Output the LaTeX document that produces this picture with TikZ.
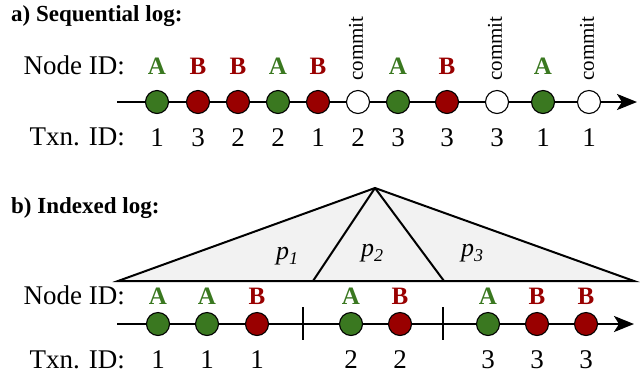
\documentclass[tikz,border=0pt]{standalone}
\usepackage{fontspec}
\setmainfont{Liberation Serif}
\usetikzlibrary{arrows.meta}
\definecolor{gA}{RGB}{58,120,32}
\definecolor{rB}{RGB}{153,0,0}
\definecolor{triFill}{RGB}{242,242,242}
\tikzset{
  evt/.style={circle,draw=black,line width=1.1pt,minimum size=23pt,inner sep=0pt},
  evA/.style={evt,fill=gA},
  evB/.style={evt,fill=rB},
  evC/.style={evt,fill=white},
  lblA/.style={text=gA,font=\fontsize{25}{28}\selectfont\bfseries,inner sep=0pt},
  lblB/.style={text=rB,font=\fontsize{25}{28}\selectfont\bfseries,inner sep=0pt},
  txn/.style={font=\fontsize{27}{30}\selectfont,inner sep=0pt},
  rowlbl/.style={font=\fontsize{27}{30}\selectfont,inner sep=0pt,anchor=east},
  title/.style={font=\fontsize{23}{26}\selectfont\bfseries,inner sep=0pt,anchor=west},
  cmt/.style={font=\fontsize{21}{24}\selectfont,inner sep=0pt,rotate=90,anchor=west},
  axis/.style={line width=2.6pt,-{Stealth[length=20pt,width=16pt,inset=5pt]}},
  tri/.style={line width=2pt,line join=miter},
  plbl/.style={font=\fontsize{26}{30}\selectfont,inner sep=0pt},
  tick/.style={line width=1.6pt}
}
\begin{document}
\begin{tikzpicture}[x=1pt,y=-1pt]
\useasboundingbox (0,0) rectangle (644,376);
% ---------- a) sequential log
\node[title] (ta) at (11,16) {a) Sequential log:};
\node[rowlbl] (nida) at (125,65) {Node ID:};
\node[rowlbl] (tida) at (125,137) {Txn. ID:};
\coordinate (as) at (117,102);
\coordinate (ae) at (637,102);
\draw[axis] (as) -- (ae);
\foreach \x/\t/\l/\n [count=\i] in {157/A/A/1,198/B/B/3,238/B/B/2,278/A/A/2,318/B/B/1,358/C/C/2,398/A/A/3,447/B/B/3,497/C/C/3,543/A/A/1,589/C/C/1}{
  \node[ev\t] (a\i) at (\x,102) {};
  \node[txn] (at\i) at (\x,138) {\n};
}
\foreach \i/\l in {1/A,2/B,3/B,4/A,5/B,7/A,8/B,10/A}{
  \node[lbl\l] (al\i) at (a\i |- 0,66) {\l};
}
\foreach \i in {6,9,11}{
  \node[cmt] (ac\i) at ([xshift=-2pt,yshift=9pt]a\i.north) {commit};
}
% ---------- b) indexed log
\node[title] (tb) at (11,208) {b) Indexed log:};
\coordinate (apex) at (375,188);
\coordinate (bl) at (118,281);
\coordinate (br) at (634,281);
\coordinate (m1) at (313,281);
\coordinate (m2) at (444,281);
\fill[triFill] (bl) -- (apex) -- (br) -- cycle;
\draw[tri] (bl) -- (apex) -- (br) -- cycle;
\draw[tri] (apex) -- (m1);
\draw[tri] (apex) -- (m2);
\node[plbl] (p1) at (287,256) {\textit{p}\raisebox{-5pt}{\fontsize{18}{20}\selectfont\textit{1}}};
\node[plbl] (p2) at (372,253) {\textit{p}\raisebox{-5pt}{\fontsize{18}{20}\selectfont\textit{2}}};
\node[plbl] (p3) at (472,253) {\textit{p}\raisebox{-5pt}{\fontsize{18}{20}\selectfont\textit{3}}};
\node[rowlbl] (nidb) at (125,295) {Node ID:};
\node[rowlbl] (tidb) at (125,360) {Txn. ID:};
\coordinate (bs) at (117,324);
\coordinate (be) at (634,324);
\draw[axis] (bs) -- (be);
\coordinate (k1a) at (303,307); \coordinate (k1b) at (303,340);
\coordinate (k2a) at (443,307); \coordinate (k2b) at (443,340);
\draw[tick] (k1a) -- (k1b);
\draw[tick] (k2a) -- (k2b);
\foreach \x/\t/\n [count=\i] in {158/A/1,207/A/1,257/B/1,351/A/2,400/B/2,488/A/3,537/B/3,586/B/3}{
  \node[ev\t] (b\i) at (\x,324) {};
  \node[lbl\t] (bl\i) at (\x,296) {\t};
  \node[txn] (bt\i) at (\x,360) {\n};
}
\end{tikzpicture}
\end{document}
